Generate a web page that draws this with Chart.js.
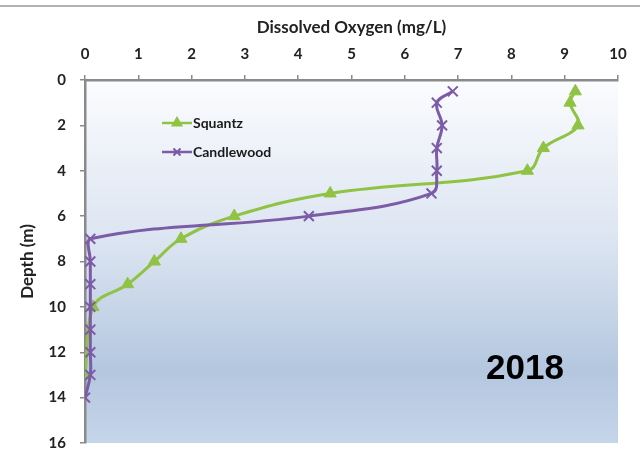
<!DOCTYPE html>
<html>
<head>
<meta charset="utf-8">
<script src="https://cdn.jsdelivr.net/npm/chart.js@4.4.1/dist/chart.umd.min.js"></script>
<style>
  html, body { margin: 0; padding: 0; background: #fff; }
  #wrap { width: 640px; height: 459px; position: relative; }
</style>
</head>
<body>
<div id="wrap"><canvas id="doChart"></canvas></div>
<script>
// depth (m) on y, dissolved oxygen (mg/L) on x
const squantzDepth = [0.5, 1, 2, 3, 4, 5, 6, 7, 8, 9, 10, 13];
const squantzDO = [9.2, 9.1, 9.25, 8.6, 8.3, 4.6, 2.8, 1.8, 1.3, 0.8, 0.15, 0.0];
const candleDepth = [0.5, 1, 2, 3, 4, 5, 6, 7, 8, 9, 10, 11, 12, 13, 14];
const candleDO = [6.9, 6.6, 6.7, 6.6, 6.6, 6.5, 4.2, 0.1, 0.1, 0.1, 0.1, 0.1, 0.1, 0.1, 0.0];
const seriesNames = ['Squantz', 'Candlewood'];
const yearLabel = '2018';

const green = '#90c244';
const purple = '#7c5ba7';
const font = 'Lato, "Open Sans", sans-serif';

const toPoints = (xs, ys) => xs.map((v, i) => ({x: v, y: ys[i]}));

const backdrop = {
  id: 'backdrop',
  beforeDraw(chart) {
    const {ctx, chartArea: a} = chart;
    ctx.save();
    ctx.strokeStyle = '#9a9a9a';
    ctx.lineWidth = 1.5;
    ctx.beginPath();
    ctx.moveTo(0, 6);
    ctx.lineTo(chart.width, 6);
    ctx.stroke();
    const g = ctx.createLinearGradient(0, a.top, 0, a.bottom);
    g.addColorStop(0, '#fbfcfe');
    g.addColorStop(0.45, '#dbe4f1');
    g.addColorStop(0.8, '#b4c7df');
    g.addColorStop(1, '#c5d5ea');
    ctx.fillStyle = g;
    ctx.fillRect(a.left, a.top, a.right - a.left, a.bottom - a.top);
    ctx.restore();
  },
  afterDraw(chart) {
    const {ctx, chartArea: a} = chart;
    ctx.save();
    // legend inside the plot
    const rows = [
      {name: seriesNames[0], color: green, style: 'triangle', y: a.top + 43},
      {name: seriesNames[1], color: purple, style: 'crossRot', y: a.top + 72}
    ];
    const lx = a.left + 77;
    rows.forEach(r => {
      ctx.strokeStyle = r.color;
      ctx.fillStyle = r.color;
      ctx.lineWidth = 2.5;
      ctx.beginPath();
      ctx.moveTo(lx, r.y);
      ctx.lineTo(lx + 30, r.y);
      ctx.stroke();
      ctx.lineWidth = 2;
      Chart.helpers.drawPoint(ctx, {pointStyle: r.style, radius: 5, borderWidth: 2}, lx + 15, r.y);
      ctx.fillStyle = '#1a1a1a';
      ctx.font = 'bold 14px ' + font;
      ctx.textBaseline = 'middle';
      ctx.fillText(r.name, lx + 31, r.y);
    });
    // year tag
    ctx.fillStyle = '#000';
    ctx.font = 'bold 35px Arial, "Liberation Sans", sans-serif';
    ctx.textAlign = 'left';
    ctx.textBaseline = 'middle';
    ctx.fillText(yearLabel, a.left + 401, a.top + 289);
    ctx.restore();
  }
};

const ctx = document.getElementById('doChart');
new Chart(ctx, {
  type: 'line',
  data: {
    datasets: [
      {
        label: seriesNames[0],
        data: toPoints(squantzDO, squantzDepth),
        order: 1,
        borderColor: green,
        backgroundColor: green,
        borderWidth: 3,
        pointStyle: 'triangle',
        pointRadius: 7,
        pointBorderWidth: 1,
        pointBackgroundColor: green,
        pointBorderColor: green,
        tension: 0.4
      },
      {
        label: seriesNames[1],
        data: toPoints(candleDO, candleDepth),
        order: 0,
        borderColor: purple,
        backgroundColor: purple,
        borderWidth: 3,
        pointStyle: 'crossRot',
        pointRadius: 7,
        pointBorderWidth: 2,
        pointBorderColor: purple,
        tension: 0.4
      }
    ]
  },
  options: {
    responsive: true,
    maintainAspectRatio: false,
    animation: false,
    layout: {padding: {left: 17, right: 22, top: 17, bottom: 16}},
    plugins: {legend: {display: false}, tooltip: {enabled: false}},
    scales: {
      x: {
        type: 'linear',
        position: 'top',
        min: 0,
        max: 10,
        afterFit: s => { s.height = 63; s.paddingLeft = 0; s.paddingRight = 0; },
        ticks: {stepSize: 1, color: '#222', font: {family: font, size: 15, weight: 'bold'}, padding: 12},
        grid: {drawOnChartArea: false, drawTicks: true, tickLength: 5, color: '#8a8a8a', lineWidth: 1.5},
        border: {color: '#8a8a8a', width: 2.5},
        title: {display: true, text: 'Dissolved Oxygen (mg/L)', color: '#222', font: {family: font, size: 17, weight: 'bold'}, padding: {top: 0, bottom: 0}}
      },
      y: {
        type: 'linear',
        reverse: true,
        min: 0,
        max: 16,
        afterFit: s => { s.width = 68; s.paddingTop = 0; s.paddingBottom = 0; },
        ticks: {stepSize: 2, color: '#222', font: {family: font, size: 15, weight: 'bold'}, padding: 14},
        grid: {drawOnChartArea: false, drawTicks: true, tickLength: 5, color: '#8a8a8a', lineWidth: 1.5},
        border: {color: '#8a8a8a', width: 2.5},
        title: {display: true, text: 'Depth (m)', color: '#222', font: {family: font, size: 17, weight: 'bold'}, padding: {top: 0, bottom: 0}}
      }
    }
  },
  plugins: [backdrop]
});
</script>
</body>
</html>
